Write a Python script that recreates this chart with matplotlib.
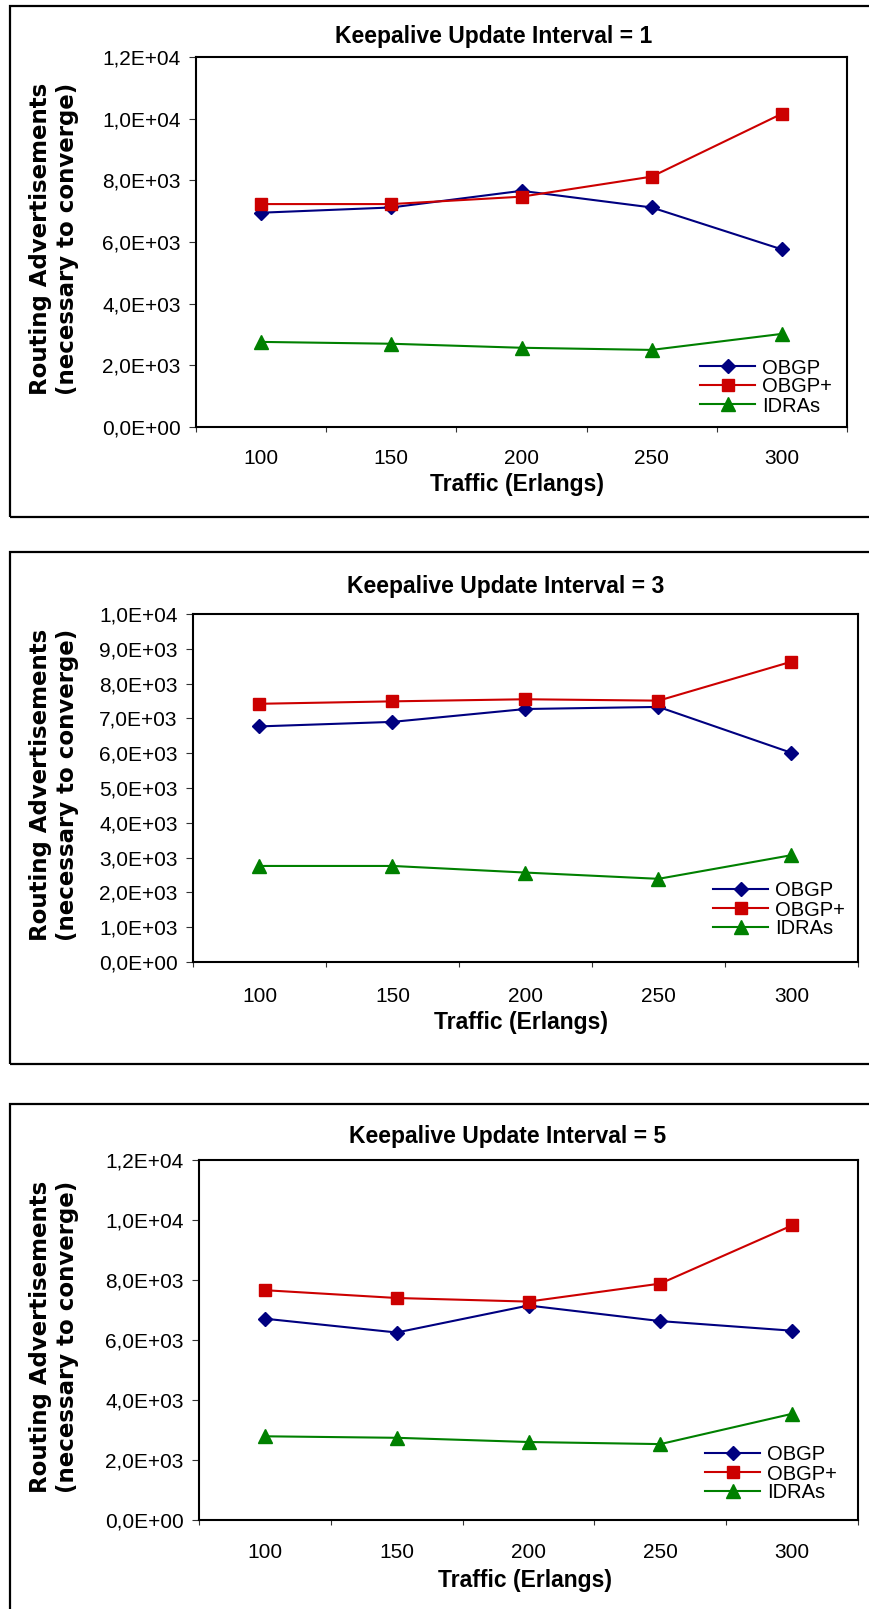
import matplotlib
matplotlib.use('Agg')
import matplotlib.pyplot as plt
from matplotlib.ticker import FuncFormatter, FixedLocator, MultipleLocator
from matplotlib.patches import Rectangle

# traffic load categories (Erlangs)
traffic = ['100', '150', '200', '250', '300']
series_names = ['OBGP', 'OBGP+', 'IDRAs']

# routing advertisements needed to converge, keepalive interval = 1
obgp_1 = [6950, 7120, 7660, 7120, 5760]
obgp_plus_1 = [7230, 7230, 7470, 8120, 10160]
idras_1 = [2760, 2700, 2570, 2500, 3020]

# keepalive interval = 3
obgp_3 = [6770, 6900, 7270, 7330, 6010]
obgp_plus_3 = [7420, 7490, 7550, 7510, 8630]
idras_3 = [2760, 2760, 2570, 2390, 3070]

# keepalive interval = 5
obgp_5 = [6710, 6250, 7150, 6630, 6310]
obgp_plus_5 = [7660, 7400, 7280, 7880, 9820]
idras_5 = [2790, 2740, 2600, 2530, 3540]

intervals = [1, 3, 5]
y_max = [12000, 10000, 12000]
y_step = [2000, 1000, 2000]

W, H = 870, 1609
plt.rcParams['font.family'] = ['Liberation Sans', 'DejaVu Sans']

fig = plt.figure(figsize=(W / 100, H / 100), dpi=100)

# pixel layout for each chart: axes box, outer frame, text anchors, legend anchor
layout = [
    dict(ax=(196, 57, 847, 427), frame=(10, 6, 880, 517), title=(494, 37),
         xlab=(517, 484), xpad=16.0, leg=(700, 387)),
    dict(ax=(193, 614, 858, 962), frame=(10, 552, 880, 1064), title=(506, 586),
         xlab=(521, 1023), xpad=18.0, leg=(713, 910)),
    dict(ax=(199, 1160, 858, 1520), frame=(10, 1104, 880, 1625), title=(508, 1136),
         xlab=(525, 1581), xpad=16.8, leg=(705, 1474)),
]

data = [
    (obgp_1, obgp_plus_1, idras_1),
    (obgp_3, obgp_plus_3, idras_3),
    (obgp_5, obgp_plus_5, idras_5),
]

styles = [
    dict(color='#000080', marker='D', ms=7.3),
    dict(color='#CC0000', marker='s', ms=8.5),
    dict(color='#008000', marker='^', ms=10.5),
]

sci = FuncFormatter(lambda v, p: ('%.1E' % v).replace('.', ','))

for i, lay in enumerate(layout):
    fl, ft, fr, fb = lay['frame']
    fig.add_artist(Rectangle((fl / W, 1 - fb / H), (fr - fl) / W, (fb - ft) / H,
                             transform=fig.transFigure, fill=False,
                             ec='black', lw=1.6))

    l, t, r, b = lay['ax']
    ax = fig.add_axes([l / W, 1 - b / H, (r - l) / W, (b - t) / H])
    x = range(len(traffic))
    for name, vals, st in zip(series_names, data[i], styles):
        ax.plot(x, vals, color=st['color'], marker=st['marker'], ms=st['ms'],
                mec=st['color'], mfc=st['color'], lw=1.5, label=name)

    ax.set_xlim(-0.5, len(traffic) - 0.5)
    ax.set_ylim(0, y_max[i])
    ax.yaxis.set_major_locator(MultipleLocator(y_step[i]))
    ax.yaxis.set_major_formatter(sci)

    # ticks between categories, labels centred on categories
    ax.xaxis.set_major_locator(FixedLocator([k - 0.5 for k in range(len(traffic) + 1)]))
    ax.xaxis.set_major_formatter(FuncFormatter(lambda v, p: ''))
    ax.xaxis.set_minor_locator(FixedLocator(list(x)))
    ax.set_xticklabels(traffic, minor=True)

    ax.tick_params(axis='y', direction='out', length=5, width=0.8, color='#333333',
                   pad=6.0, labelsize=15)
    ax.tick_params(axis='x', which='major', direction='out', length=3.8, width=0.8,
                   color='#333333')
    ax.tick_params(axis='x', which='minor', length=0, pad=lay['xpad'], labelsize=15)

    for sp in ax.spines.values():
        sp.set_linewidth(1.5)
        sp.set_color('black')

    lx, ly = lay['leg']
    ax.legend(loc='center left', bbox_to_anchor=(lx / W, 1 - ly / H),
              bbox_transform=fig.transFigure, frameon=False, fontsize=14.5,
              handlelength=2.75, handletextpad=0.33, labelspacing=0.0,
              borderpad=0, borderaxespad=0)

    tx, ty = lay['title']
    fig.text(tx / W, 1 - ty / H, 'Keepalive Update Interval = %d' % intervals[i],
             ha='center', va='center', fontsize=16.5, fontweight='bold')
    xx, xy = lay['xlab']
    fig.text(xx / W, 1 - xy / H, 'Traffic (Erlangs)',
             ha='center', va='center', fontsize=16.5, fontweight='bold')
    fig.text(54 / W, 1 - ((t + b) / 2 - 3) / H,
             'Routing Advertisements\n(necessary to converge)',
             rotation=90, ha='center', va='center', multialignment='center',
             fontsize=16.5, fontweight='bold', family=['DejaVu Sans'],
             linespacing=1.25)

fig.savefig('out.png', dpi=100)
